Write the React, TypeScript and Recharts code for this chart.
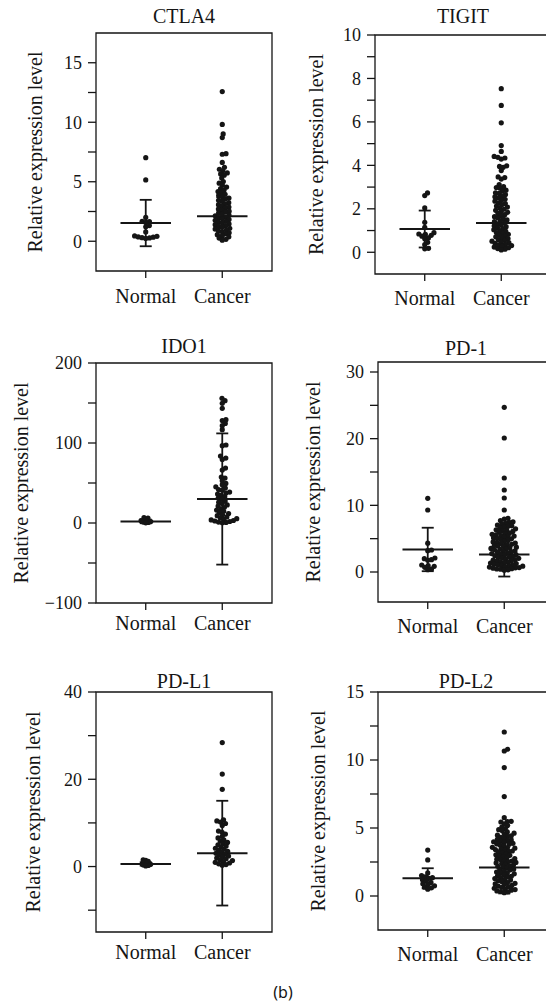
import React from "react";
import { ScatterChart, Scatter, XAxis, YAxis, ReferenceArea, ReferenceLine, ErrorBar } from "recharts";

// ---- data ----
const groups = ["Normal", "Cancer"];
const axisTitle = "Relative expression level";

const ctla4Normal = [7.02, 5.15, 2.0, 1.68, 1.66, 1.58, 1.32, 1.22, 0.78, 0.45, 0.41, 0.36, 0.34, 0.3, 0.28, 0.24];
const ctla4Cancer = [
  12.58, 9.82, 9.02, 8.71, 7.36, 7.31, 6.62, 6.21, 6.05, 5.92, 5.74, 5.66, 5.55, 5.31, 5.02, 4.88, 4.71, 4.55,
  4.43, 4.31, 4.18, 4.07, 3.95, 3.86, 3.74, 3.63, 3.55, 3.44, 3.36, 3.24, 3.15, 3.07, 2.96, 2.88, 2.79, 2.71,
  2.62, 2.53, 2.47, 2.38, 2.29, 2.21, 2.14, 2.06, 1.98, 1.91, 1.83, 1.76, 1.68, 1.61, 1.54, 1.46, 1.39, 1.31,
  1.25, 1.17, 1.09, 1.02, 0.94, 0.87, 0.79, 0.71, 0.63, 0.55, 0.46, 0.37, 0.27, 0.16, 0.09,
];
const ctla4Mean = [1.53, 2.1];
const ctla4Sd = [1.95, 1.6];
const ctla4Ticks = [0, 2.5, 5, 7.5, 10, 12.5, 15];
const ctla4Labels = [0, 5, 10, 15];

const tigitNormal = [2.73, 2.61, 2.04, 1.38, 1.15, 0.9, 0.84, 0.82, 0.78, 0.74, 0.66, 0.62, 0.46, 0.35, 0.18, 0.16];
const tigitCancer = [
  7.53, 6.76, 5.96, 4.91, 4.64, 4.41, 4.37, 4.34, 4.29, 3.98, 3.95, 3.91, 3.76, 3.47, 3.44, 3.37, 3.12, 3.02,
  2.98, 2.95, 2.86, 2.81, 2.74, 2.71, 2.66, 2.59, 2.55, 2.51, 2.44, 2.39, 2.35, 2.28, 2.24, 2.19, 2.13, 2.08,
  2.04, 1.99, 1.93, 1.88, 1.84, 1.79, 1.73, 1.69, 1.64, 1.58, 1.55, 1.49, 1.44, 1.41, 1.36, 1.31, 1.27, 1.22,
  1.18, 1.13, 1.09, 1.04, 0.99, 0.96, 0.91, 0.87, 0.83, 0.79, 0.74, 0.71, 0.66, 0.63, 0.58, 0.55, 0.51, 0.47,
  0.44, 0.41, 0.37, 0.34, 0.31, 0.28, 0.24, 0.21, 0.17, 0.14, 0.11,
];
const tigitMean = [1.07, 1.35];
const tigitSd = [0.85, 1.1];
const tigitTicks = [0, 1, 2, 3, 4, 5, 6, 7, 8, 9, 10];
const tigitLabels = [0, 2, 4, 6, 8, 10];

const ido1Normal = [6.8, 6.1, 4.4, 2.9, 1.8, 1.1, 0.6, 0.2];
const ido1Cancer = [
  155.8, 152.9, 149.6, 143.3, 129.2, 128.1, 124.5, 121.6, 116.6, 97.5, 96.6, 83.7, 81.2, 79.5, 68.7, 66.2,
  57.5, 56.2, 52.9, 49.5, 47.9, 45.2, 43.6, 41.9, 40.8, 38.7, 37.4, 36.1, 34.5, 32.9, 31.2, 29.8, 27.4, 25.9,
  24.3, 22.6, 21.1, 19.4, 17.8, 16.2, 14.7, 13.1, 11.8, 10.2, 9.1, 7.6, 6.3, 5.4, 4.6, 3.8, 3.1, 2.5, 1.9,
  1.2, 0.7, 0.3,
];
const ido1Mean = [2.0, 30.0];
const ido1Sd = [2.3, 82.0];
const ido1Ticks = [-100, -50, 0, 50, 100, 150, 200];
const ido1Labels = [-100, 0, 100, 200];

const pd1Normal = [11.05, 9.3, 4.33, 3.3, 3.2, 2.1, 2.0, 1.85, 1.75, 1.05, 0.95, 0.85, 0.7, 0.45, 0.35];
const pd1Cancer = [
  24.7, 20.1, 14.1, 12.3, 11.1, 9.3, 8.05, 7.93, 7.71, 7.52, 7.44, 7.3, 7.18, 7.05, 6.92, 6.85, 6.74, 6.61,
  6.48, 6.33, 6.27, 6.2, 6.09, 5.96, 5.83, 5.77, 5.65, 5.58, 5.46, 5.39, 5.3, 5.21, 5.12, 5.05, 4.98, 4.87,
  4.73, 4.62, 4.51, 4.44, 4.35, 4.29, 4.16, 4.08, 3.97, 3.9, 3.84, 3.72, 3.66, 3.53, 3.45, 3.41, 3.32, 3.19,
  3.11, 3.05, 2.98, 2.89, 2.76, 2.68, 2.62, 2.57, 2.43, 2.36, 2.24, 2.18, 2.13, 2.05, 1.94, 1.86, 1.78, 1.73,
  1.65, 1.54, 1.47, 1.41, 1.35, 1.26, 1.18, 1.12, 1.07, 0.98, 0.91, 0.87, 0.82, 0.74, 0.66, 0.62, 0.58, 0.49,
  0.45, 0.41, 0.33, 0.27,
];
const pd1Mean = [3.38, 2.62];
const pd1Sd = [3.26, 3.3];
const pd1Ticks = [0, 5, 10, 15, 20, 25, 30];
const pd1Labels = [0, 10, 20, 30];

const pdl1Normal = [1.52, 1.41, 1.18, 0.92, 0.71, 0.5, 0.36, 0.24, 0.15];
const pdl1Cancer = [
  28.4, 21.2, 17.7, 10.7, 10.45, 10.18, 9.87, 9.41, 8.12, 7.86, 7.43, 6.94, 6.57, 6.13, 5.86, 5.52, 5.23, 4.97,
  4.71, 4.46, 4.19, 3.96, 3.71, 3.48, 3.27, 3.04, 2.83, 2.61, 2.42, 2.18, 1.96, 1.77, 1.54, 1.36, 1.14, 0.97,
  0.81, 0.63, 0.46, 0.31,
];
const pdl1Mean = [0.6, 3.07];
const pdl1Sd = [0.4, 12.0];
const pdl1Ticks = [-10, 0, 10, 20, 30, 40];
const pdl1Labels = [0, 20, 40];

const pdl2Normal = [3.38, 2.65, 1.7, 1.5, 1.4, 1.35, 1.3, 1.2, 1.1, 1.0, 0.9, 0.85, 0.75, 0.65, 0.6, 0.5];
const pdl2Cancer = [
  12.06, 10.79, 10.66, 9.44, 7.31, 5.76, 5.49, 5.47, 5.44, 5.31, 5.18, 5.07, 4.96, 4.88, 4.79, 4.71, 4.62,
  4.55, 4.47, 4.43, 4.38, 4.31, 4.24, 4.16, 4.12, 4.09, 4.02, 3.99, 3.94, 3.87, 3.83, 3.81, 3.73, 3.66, 3.58,
  3.56, 3.52, 3.45, 3.41, 3.37, 3.31, 3.28, 3.24, 3.17, 3.09, 3.03, 2.99, 2.96, 2.88, 2.81, 2.75, 2.71, 2.68,
  2.61, 2.57, 2.53, 2.47, 2.43, 2.39, 2.33, 2.26, 2.22, 2.18, 2.12, 2.05, 1.97, 1.94, 1.91, 1.84, 1.76, 1.7,
  1.67, 1.63, 1.55, 1.49, 1.45, 1.42, 1.34, 1.28, 1.21, 1.17, 1.13, 1.07, 0.99, 0.93, 0.89, 0.86, 0.78, 0.72,
  0.68, 0.64, 0.57, 0.51, 0.47, 0.43, 0.37, 0.33, 0.3, 0.24,
];
const pdl2Mean = [1.3, 2.09];
const pdl2Sd = [0.74, 1.9];
const pdl2Ticks = [0, 2.5, 5, 7.5, 10, 12.5, 15];
const pdl2Labels = [0, 5, 10, 15];

// ---- layout ----
const INK = "#151515";
const SERIF = "Liberation Serif";
const X_DOMAIN: [number, number] = [-0.65, 1.65];
const AXIS_W = 96;
const TOP = 40;
const AXIS_H = 60;
const GAP = 3.8; // min distance between dot centres in the swarm (px)
const MEAN_HALF = 0.33;

const panels = [
  { title: "CTLA4", normal: ctla4Normal, cancer: ctla4Cancer, mean: ctla4Mean, sd: ctla4Sd, domain: [-2.5, 17.5], ticks: ctla4Ticks, labels: ctla4Labels,
    box: { x: 96, y: 33, w: 176, h: 238 }, titleGap: 10, xMargin: 11, labelX: 35, normalGap: GAP },
  { title: "TIGIT", normal: tigitNormal, cancer: tigitCancer, mean: tigitMean, sd: tigitSd, domain: [-1, 10], ticks: tigitTicks, labels: tigitLabels,
    box: { x: 375, y: 35, w: 176, h: 239 }, titleGap: 12, xMargin: 10, labelX: 316, normalGap: GAP },
  { title: "IDO1", normal: ido1Normal, cancer: ido1Cancer, mean: ido1Mean, sd: ido1Sd, domain: [-100, 200], ticks: ido1Ticks, labels: ido1Labels,
    box: { x: 96, y: 363, w: 176, h: 240 }, titleGap: 10, xMargin: 6, labelX: 21, normalGap: 2.6 },
  { title: "PD-1", normal: pd1Normal, cancer: pd1Cancer, mean: pd1Mean, sd: pd1Sd, domain: [-4.5, 31.5], ticks: pd1Ticks, labels: pd1Labels,
    box: { x: 378, y: 362, w: 176, h: 240 }, titleGap: 7, xMargin: 10, labelX: 313, normalGap: GAP },
  { title: "PD-L1", normal: pdl1Normal, cancer: pdl1Cancer, mean: pdl1Mean, sd: pdl1Sd, domain: [-15, 40], ticks: pdl1Ticks, labels: pdl1Labels,
    box: { x: 96, y: 692, w: 176, h: 240 }, titleGap: 4, xMargin: 6, labelX: 33, normalGap: 2.6 },
  { title: "PD-L2", normal: pdl2Normal, cancer: pdl2Cancer, mean: pdl2Mean, sd: pdl2Sd, domain: [-2.5, 15], ticks: pdl2Ticks, labels: pdl2Labels,
    box: { x: 378, y: 692, w: 176, h: 238 }, titleGap: 4, xMargin: 10, labelX: 318, normalGap: GAP },
];

// simple beeswarm: place points in value order at the smallest horizontal offset that doesn't collide
function swarm(values: number[], group: number, pxY: number, pxX: number, gap: number) {
  const placed: { px: number; py: number }[] = [];
  const out: { x: number; y: number }[] = new Array(values.length);
  const order = values.map((_, i) => i).sort((a, b) => values[a] - values[b]);
  for (const i of order) {
    const py = values[i] * pxY;
    const blocked: [number, number][] = [];
    for (const p of placed) {
      const dy = Math.abs(p.py - py);
      if (dy < gap) {
        const dx = Math.sqrt(gap * gap - dy * dy);
        blocked.push([p.px - dx, p.px + dx]);
      }
    }
    const cands = [0];
    blocked.forEach(([a, b]) => cands.push(a, b));
    cands.sort((a, b) => Math.abs(a) - Math.abs(b) || b - a);
    const px = cands.find((c) => blocked.every(([a, b]) => c <= a + 1e-6 || c >= b - 1e-6)) ?? 0;
    placed.push({ px, py });
    out[i] = { x: group + px / pxX, y: values[i] };
  }
  return out;
}

const dot = (props: any) => <circle cx={props.cx} cy={props.cy} r={2.6} fill={INK} />;
const fmt = (v: number) => (v < 0 ? `\u2212${Math.abs(v)}` : `${v}`);

// tick renderers with the serif face set directly on the <text>
const XTick = ({ x, y, payload }: any) => (
  <text x={x} y={y} dy="0.71em" textAnchor="middle" fill={INK} fontSize={20} fontFamily={SERIF} style={{ fontFamily: SERIF }}>
    {groups[payload.value]}
  </text>
);

const makeYTick = (labels: number[]) => ({ x, y, payload }: any) =>
  labels.includes(payload.value) ? (
    <text x={x} y={y} dy="0.355em" textAnchor="end" fill={INK} fontSize={18} fontFamily={SERIF} style={{ fontFamily: SERIF }}>
      {fmt(payload.value)}
    </text>
  ) : (
    <g />
  );

const makeYLabel = (cx: number) => ({ viewBox }: any) => {
  const cy = viewBox.y + viewBox.height / 2;
  return (
    <text
      x={cx}
      y={cy}
      dy="0.355em"
      transform={`rotate(-90, ${cx}, ${cy})`}
      textAnchor="middle"
      fill={INK}
      fontSize={20}
      fontFamily={SERIF}
      style={{ fontFamily: SERIF }}
    >
      {axisTitle}
    </text>
  );
};

function Panel({ p }: { p: (typeof panels)[number] }) {
  const { box } = p;
  const width = AXIS_W + box.w + 6;
  const height = TOP + box.h + AXIS_H;
  const pxY = box.h / (p.domain[1] - p.domain[0]);
  const pxX = box.w / (X_DOMAIN[1] - X_DOMAIN[0]);
  const normalPts = swarm(p.normal, 0, pxY, pxX, p.normalGap);
  const cancerPts = swarm(p.cancer, 1, pxY, pxX, GAP);
  const stats = p.mean.map((m, i) => ({ x: i, y: m, sd: p.sd[i] }));
  const left = box.x - AXIS_W;

  return (
    <div style={{ position: "absolute", left, top: box.y - TOP }}>
      <ScatterChart width={width} height={height} margin={{ top: TOP, right: 6, bottom: 0, left: 0 }}>
        <XAxis
          type="number"
          dataKey="x"
          domain={X_DOMAIN}
          ticks={[0, 1]}
          interval={0}
          allowDataOverflow
          axisLine={false}
          tickSize={7}
          tickMargin={p.xMargin}
          height={AXIS_H}
          tick={<XTick />}
          tickLine={{ stroke: INK, strokeWidth: 1.3 }}
        />
        <YAxis
          type="number"
          dataKey="y"
          domain={p.domain}
          ticks={p.ticks}
          interval={0}
          allowDataOverflow
          axisLine={false}
          tickSize={8}
          tickMargin={6}
          width={AXIS_W}
          tick={makeYTick(p.labels)}
          tickLine={{ stroke: INK, strokeWidth: 1.3 }}
          label={{ content: makeYLabel(p.labelX - left) }}
        />
        <ReferenceArea
          x1={X_DOMAIN[0]}
          x2={X_DOMAIN[1]}
          y1={p.domain[0]}
          y2={p.domain[1]}
          fill="none"
          stroke={INK}
          strokeWidth={1.3}
          ifOverflow="visible"
          label={{ value: p.title, position: "top", offset: p.titleGap, fill: INK, fontSize: 20, fontFamily: SERIF }}
        />
        <Scatter data={normalPts} shape={dot} isAnimationActive={false} />
        <Scatter data={cancerPts} shape={dot} isAnimationActive={false} />
        {p.mean.map((m, i) => (
          <ReferenceLine
            key={i}
            segment={[
              { x: i - MEAN_HALF, y: m },
              { x: i + MEAN_HALF, y: m },
            ]}
            stroke={INK}
            strokeWidth={2}
          />
        ))}
        <Scatter data={stats} shape={() => <g />} isAnimationActive={false}>
          <ErrorBar dataKey="sd" direction="y" width={6} stroke={INK} strokeWidth={1.8} />
        </Scatter>
      </ScatterChart>
    </div>
  );
}

export default function App() {
  return (
    <div
      style={{
        position: "absolute",
        left: 0,
        top: 0,
        width: 546,
        height: 1006,
        overflow: "hidden",
        background: "#fff",
        fontFamily: SERIF,
      }}
    >
      {panels.map((p) => (
        <Panel key={p.title} p={p} />
      ))}
      <div
        style={{
          position: "absolute",
          left: 243,
          top: 984,
          width: 80,
          textAlign: "center",
          fontFamily: '"Noto Sans", sans-serif',
          fontSize: 16,
          lineHeight: "16px",
          color: INK,
        }}
      >
        (b)
      </div>
    </div>
  );
}
